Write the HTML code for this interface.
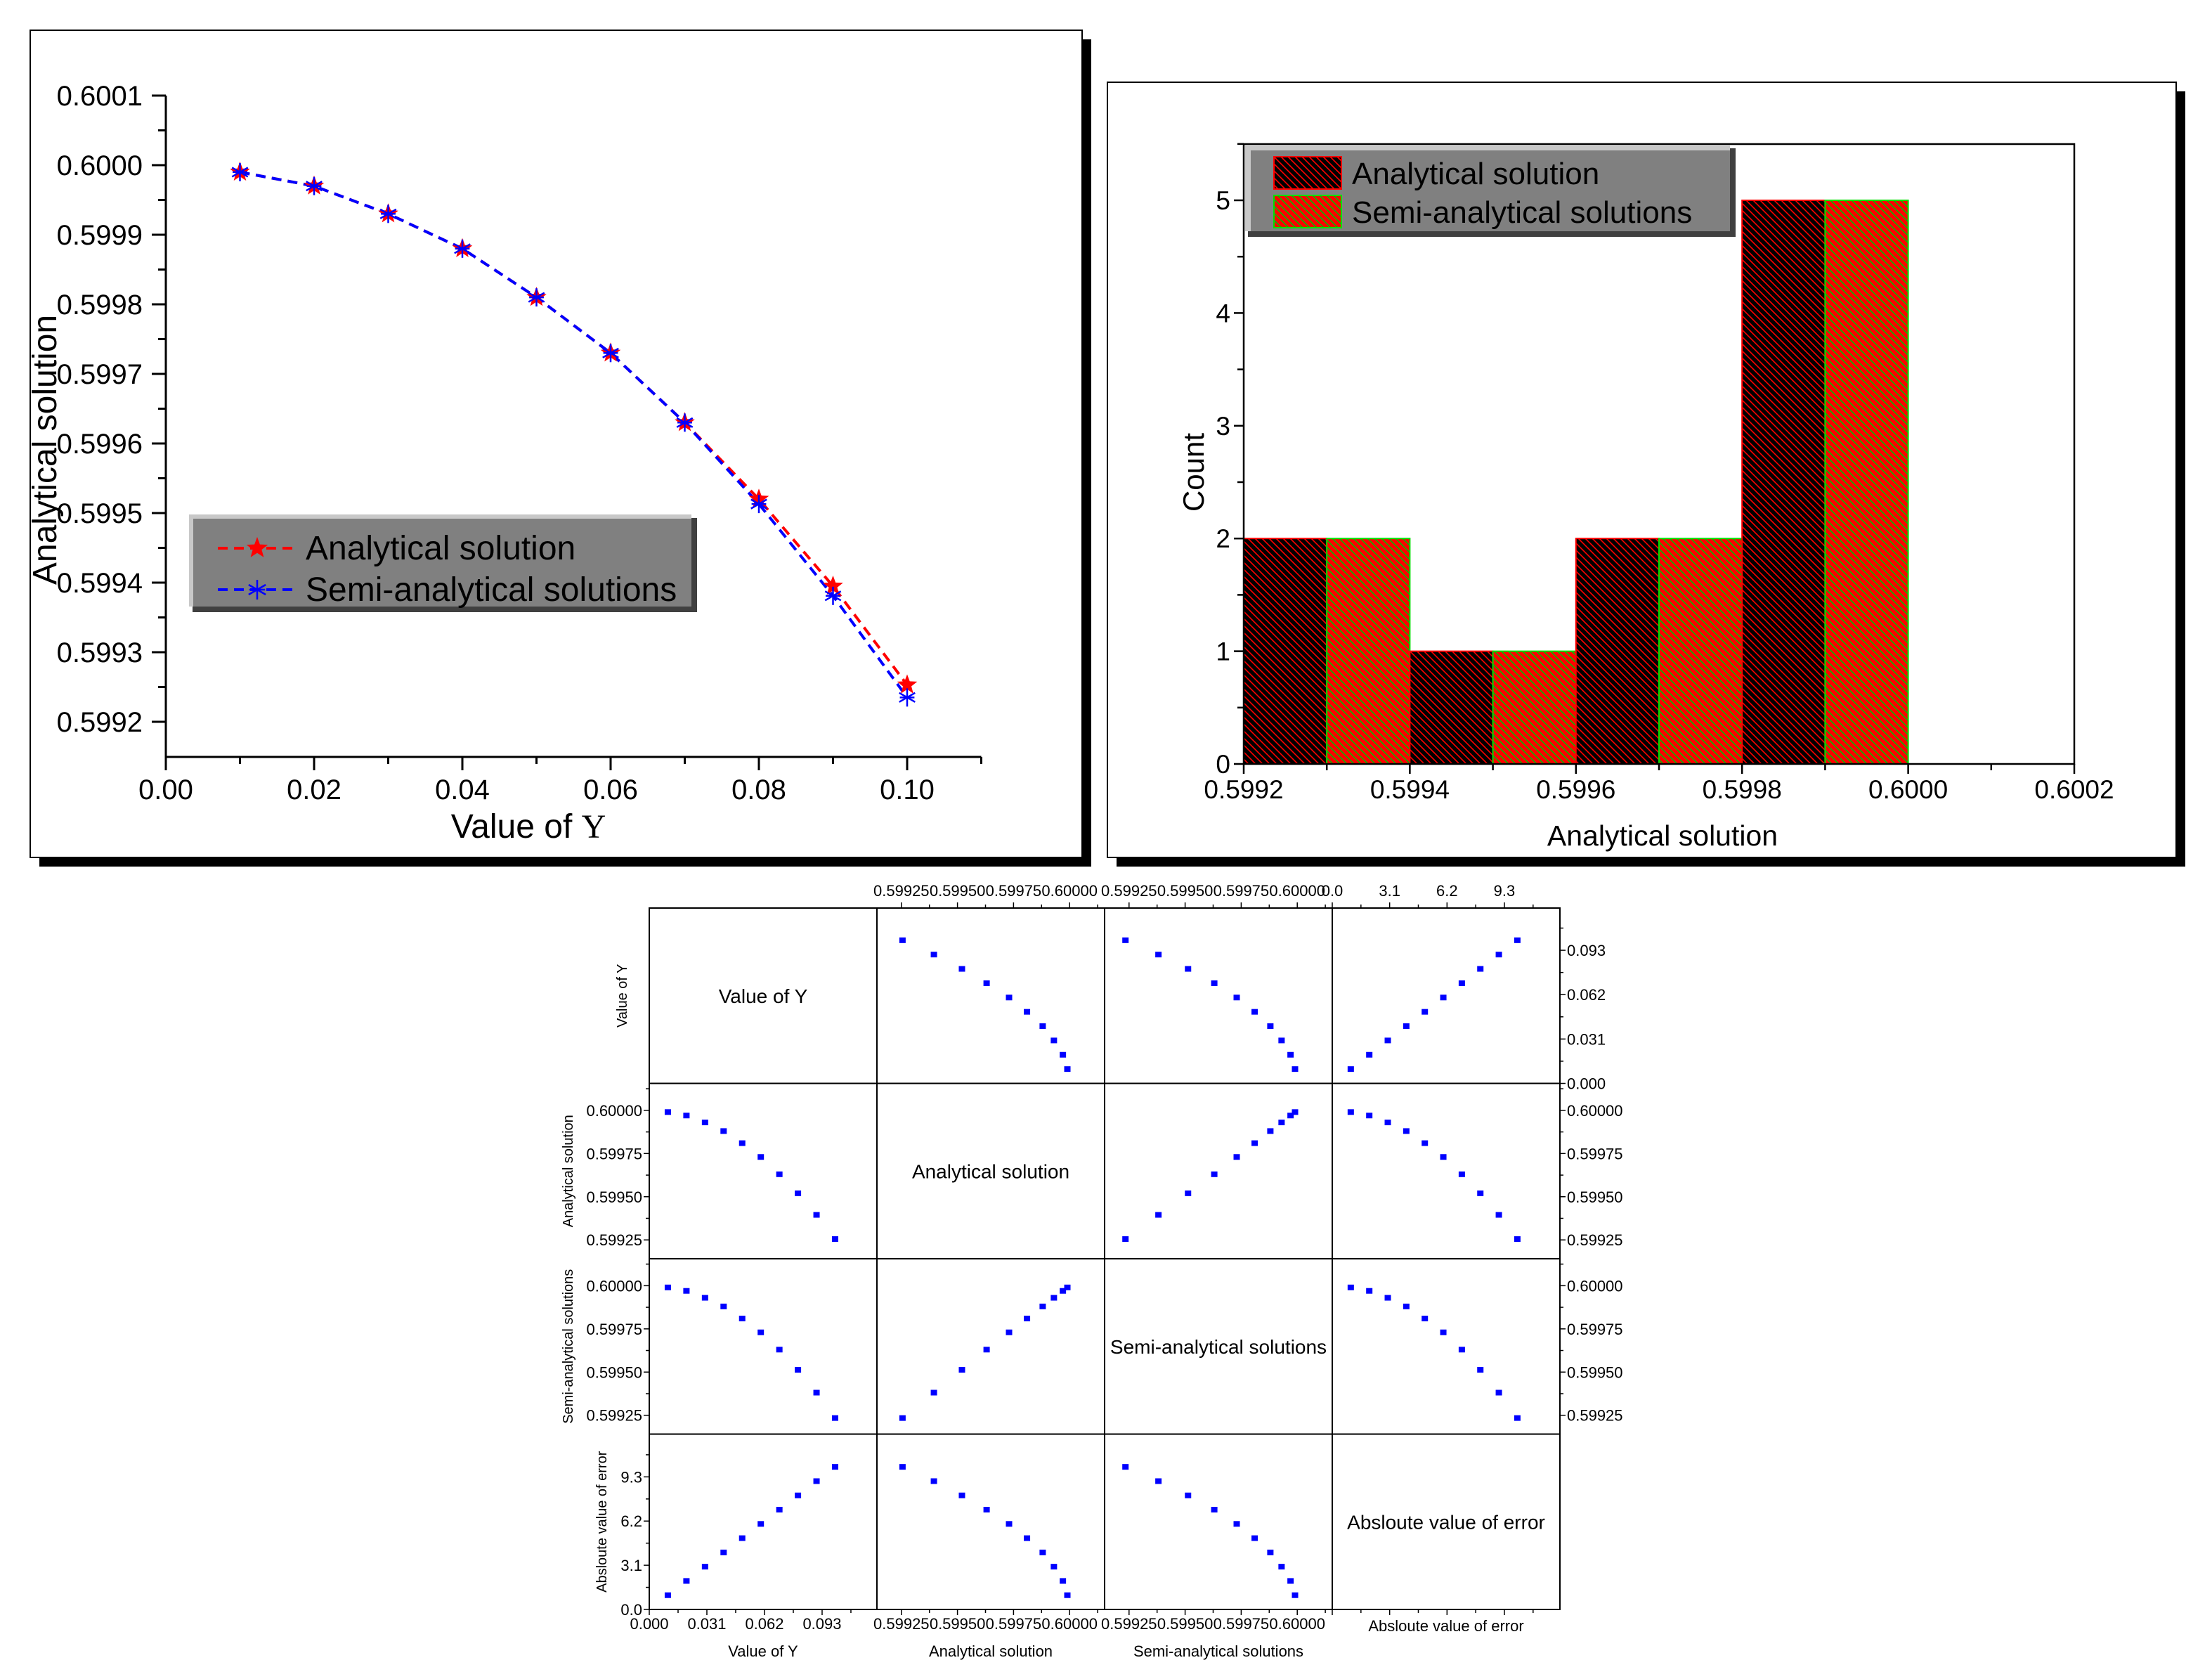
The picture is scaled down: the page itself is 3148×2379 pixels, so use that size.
<!DOCTYPE html>
<html><head><meta charset="utf-8"><style>
html,body{margin:0;padding:0;background:#fff;}
svg{display:block;font-family:"Liberation Sans",sans-serif;}
</style></head><body>
<svg id="root" width="3148" height="2379" viewBox="0 0 3148 2379" xmlns="http://www.w3.org/2000/svg">
<defs>
<pattern id="hatchRed" width="10" height="10" patternUnits="userSpaceOnUse">
<rect width="10" height="10" fill="#000"/><path d="M-2,-2 L12,12 M-2,8 L2,12 M8,-2 L12,2" stroke="#ff0000" stroke-width="1.6"/>
</pattern>
<pattern id="hatchGreen" width="10" height="10" patternUnits="userSpaceOnUse">
<rect width="10" height="10" fill="#ff0000"/><path d="M-2,-2 L12,12 M-2,8 L2,12 M8,-2 L12,2" stroke="#00c000" stroke-width="1.6"/>
</pattern>
</defs>
<rect x="56" y="56" width="1497" height="1177" fill="#000"/>
<rect x="43" y="43" width="1497" height="1177" fill="#fff" stroke="#000" stroke-width="2"/>
<rect x="1589" y="130" width="1521" height="1103" fill="#000"/>
<rect x="1576" y="117" width="1521" height="1103" fill="#fff" stroke="#000" stroke-width="2"/>
<g id="left"></g>
<g id="right"></g>
<g id="matrix"></g>
</svg>
<script>
const NS='http://www.w3.org/2000/svg';
// ---- Left chart data ----
const lineX=[0.01,0.02,0.03,0.04,0.05,0.06,0.07,0.08,0.09,0.10];
const analytical=[0.59999,0.59997,0.59993,0.59988,0.59981,0.59973,0.59963,0.59952,0.599395,0.599253];
const semiAnalytical=[0.59999,0.59997,0.59993,0.59988,0.59981,0.59973,0.59963,0.599513,0.599381,0.599235];
const leftXTicks=["0.00","0.02","0.04","0.06","0.08","0.10"];
const leftYTicks=["0.5992","0.5993","0.5994","0.5995","0.5996","0.5997","0.5998","0.5999","0.6000","0.6001"];
// ---- Histogram data ----
const binStarts=[0.5992,0.5994,0.5996,0.5998];
const histAnalytical=[2,1,2,5];
const histSemi=[2,1,2,5];
const histXTicks=["0.5992","0.5994","0.5996","0.5998","0.6000","0.6002"];
const histYTicks=["0","1","2","3","4","5"];
// ---- Matrix data ----
const matVars=["Value of Y","Analytical solution","Semi-analytical solutions","Absloute value of error"];
const matY=[0.01,0.02,0.03,0.04,0.05,0.06,0.07,0.08,0.09,0.10];
const matA=[0.59999,0.59997,0.59993,0.59988,0.59981,0.59973,0.59963,0.59952,0.599395,0.599255];
const matS=[0.59999,0.59997,0.59993,0.59988,0.59981,0.59973,0.59963,0.599513,0.599381,0.599234];
const matE=[1,2,3,4,5,6,7,8,9,10];
const tickY=["0.000","0.031","0.062","0.093"];
const tickA=["0.59925","0.59950","0.59975","0.60000"];
const tickE=["0.0","3.1","6.2","9.3"];

function mk(parent,tag,attrs,text){const e=document.createElementNS(NS,tag);for(const k in attrs)e.setAttribute(k,attrs[k]);if(text!==undefined)e.textContent=text;parent.appendChild(e);return e;}

// ===== LEFT CHART =====
const L=document.getElementById('left');
const lx=v=>236+v*10550;
const ly=v=>1027-(v-0.5992)*990000;
let e;
e=mk(L,'line',{x1:236,y1:ly(0.6001),x2:236,y2:1077,stroke:'#000','stroke-width':3});

e=mk(L,'line',{x1:235,y1:1077,x2:lx(0.11),y2:1077,stroke:'#000','stroke-width':3});

for(let i=0;i<=11;i++){const x=lx(i*0.01);const major=i%2===0;
 mk(L,'line',{x1:x,y1:1077,x2:x,y2:1077+(major?19:10),stroke:'#000','stroke-width':3});}
leftXTicks.forEach(t=>{e=mk(L,'text',{x:lx(parseFloat(t)),y:1137,'font-size':40,'text-anchor':'middle'},t);
 });
for(let i=0;i<=18;i++){const v=0.5992+i*0.00005;const y=ly(v);const major=i%2===0;
 mk(L,'line',{x1:236,y1:y,x2:236-(major?20:11),y2:y,stroke:'#000','stroke-width':3});}
leftYTicks.forEach(t=>{e=mk(L,'text',{x:203,y:ly(parseFloat(t))+14,'font-size':40,'text-anchor':'end'},t);
 });
e=mk(L,'text',{x:0,y:0,'font-size':48,'text-anchor':'middle',transform:'translate(80,640) rotate(-90)'},'Analytical solution');

e=mk(L,'text',{x:752,y:1192,'font-size':48,'text-anchor':'middle'});

e.innerHTML='Value of <tspan font-family="Liberation Serif, serif">Y</tspan>';
function starPath(cx,cy,r){let d='';for(let i=0;i<10;i++){const a=-Math.PI/2+i*Math.PI/5;const rr=i%2?r*0.42:r;d+=(i?'L':'M')+(cx+rr*Math.cos(a)).toFixed(1)+','+(cy+rr*Math.sin(a)).toFixed(1);}return d+'Z';}
function asterisk(g,cx,cy,r,col){[90,30,150].forEach(a=>{const rad=a*Math.PI/180;mk(g,'line',{x1:cx-r*Math.cos(rad),y1:cy-r*Math.sin(rad),x2:cx+r*Math.cos(rad),y2:cy+r*Math.sin(rad),stroke:col,'stroke-width':2.5});});mk(g,'line',{x1:cx-r*0.8,y1:cy,x2:cx+r*0.8,y2:cy,stroke:col,'stroke-width':2.5});}
e=mk(L,'polyline',{points:lineX.map((x,i)=>lx(x)+','+ly(analytical[i])).join(' '),fill:'none',stroke:'#ff0000','stroke-width':4,'stroke-dasharray':'14 9'});

e=mk(L,'polyline',{points:lineX.map((x,i)=>lx(x)+','+ly(semiAnalytical[i])).join(' '),fill:'none',stroke:'#0000ff','stroke-width':4,'stroke-dasharray':'14 9'});

lineX.forEach((x,i)=>{e=mk(L,'path',{d:starPath(lx(x),ly(analytical[i]),15),fill:'#ff0000'});
 });
lineX.forEach((x,i)=>{const g=mk(L,'g',{});asterisk(g,lx(x),ly(semiAnalytical[i]),13,'#0000ff');});
const LG=mk(L,'g',{});
mk(LG,'rect',{x:274,y:737,width:718,height:134,fill:'#404040'});
mk(LG,'rect',{x:269,y:732,width:715,height:131,fill:'#c8c8c8'});
mk(LG,'rect',{x:275,y:738,width:709,height:125,fill:'#808080'});
mk(LG,'line',{x1:310,y1:780,x2:422,y2:780,stroke:'#ff0000','stroke-width':4,'stroke-dasharray':'14 9'});
mk(LG,'path',{d:starPath(366,780,16),fill:'#ff0000'});
mk(LG,'text',{x:435,y:796,'font-size':48},'Analytical solution');
mk(LG,'line',{x1:310,y1:839,x2:422,y2:839,stroke:'#0000ff','stroke-width':4,'stroke-dasharray':'14 9'});
asterisk(LG,366,839,14,'#0000ff');
mk(LG,'text',{x:435,y:855,'font-size':48},'Semi-analytical solutions');

// ===== RIGHT CHART =====
const R=document.getElementById('right');
const rx=v=>1770+(v-0.5992)*1182000;
const ry=c=>1087-c*160.4;
binStarts.forEach((b,i)=>{
 e=mk(R,'rect',{x:rx(b),y:ry(histAnalytical[i]),width:rx(b+0.0001)-rx(b),height:ry(0)-ry(histAnalytical[i]),fill:'url(#hatchRed)',stroke:'#ff0000','stroke-width':2});
 
 e=mk(R,'rect',{x:rx(b+0.0001),y:ry(histSemi[i]),width:rx(b+0.0002)-rx(b+0.0001),height:ry(0)-ry(histSemi[i]),fill:'url(#hatchGreen)',stroke:'#00e000','stroke-width':2});
 
});
e=mk(R,'rect',{x:1770,y:205,width:1182,height:882,fill:'none',stroke:'#000','stroke-width':2.5});

for(let i=0;i<=10;i++){const x=rx(0.5992+i*0.0001);mk(R,'line',{x1:x,y1:1087,x2:x,y2:1087+(i%2?9:14),stroke:'#000','stroke-width':2.5});}
histXTicks.forEach(t=>{e=mk(R,'text',{x:rx(parseFloat(t)),y:1136,'font-size':37,'text-anchor':'middle'},t);
 });
for(let i=0;i<=11;i++){const y=ry(i*0.5);mk(R,'line',{x1:1770,y1:y,x2:1770-(i%2?9:14),y2:y,stroke:'#000','stroke-width':2.5});}
histYTicks.forEach(t=>{e=mk(R,'text',{x:1751,y:ry(parseFloat(t))+13,'font-size':37,'text-anchor':'end'},t);
 });
e=mk(R,'text',{x:0,y:0,'font-size':42,'text-anchor':'middle',transform:'translate(1713,672) rotate(-90)'},'Count');

e=mk(R,'text',{x:2366,y:1203,'font-size':41,'text-anchor':'middle'},'Analytical solution');

const RG=mk(R,'g',{});
mk(RG,'rect',{x:1776,y:211,width:694,height:126,fill:'#404040'});
mk(RG,'rect',{x:1772,y:207,width:690,height:122,fill:'#c8c8c8'});
mk(RG,'rect',{x:1780,y:214,width:682,height:115,fill:'#808080'});
mk(RG,'rect',{x:1813,y:223,width:96,height:46,fill:'url(#hatchRed)',stroke:'#ff0000','stroke-width':2});
mk(RG,'text',{x:1924,y:262,'font-size':44},'Analytical solution');
mk(RG,'rect',{x:1813,y:278,width:96,height:46,fill:'url(#hatchGreen)',stroke:'#00e000','stroke-width':2});
mk(RG,'text',{x:1924,y:317,'font-size':44},'Semi-analytical solutions');

// ===== MATRIX =====
const M=document.getElementById('matrix');
const MX=924,MY=1292,CW=324,CH=249.5;
const ranges=[[0,0.1225],[0.599141,0.600156],[0.599141,0.600156],[0,12.3]];
const dataCols=[matY,matA,matS,matE];
const tickSets=[tickY,tickA,tickA,tickE];
const fr=(k,v)=>(v-ranges[k][0])/(ranges[k][1]-ranges[k][0]);
for(let r=0;r<4;r++)for(let c=0;c<4;c++){
 const x0=MX+c*CW,y0=MY+r*CH;
 e=mk(M,'rect',{x:x0,y:y0,width:CW,height:CH,fill:'none',stroke:'#000','stroke-width':2});
 
 if(r===c){e=mk(M,'text',{x:x0+CW/2,y:y0+CH/2+10,'font-size':28,'text-anchor':'middle'},matVars[r]);
  continue;}
 dataCols[c].forEach((xv,i)=>{const yv=dataCols[r][i];
  e=mk(M,'rect',{x:x0+fr(c,xv)*CW-4.5,y:y0+CH-fr(r,yv)*CH-4,width:9,height:8,fill:'#0000ff'});
  });
}
function minorOf(ts,k){const a=parseFloat(ts[0]),b=parseFloat(ts[1]);const st=b-a;const out=[];for(let v=a-st/2;v<=ranges[k][1];v+=st/2){if(v>=ranges[k][0]-1e-12)out.push(v);}return out;}
for(let k=0;k<4;k++){
 const ts=tickSets[k];const all=minorOf(ts,k);
 const x0=MX+k*CW;
 all.forEach(v=>{const x=x0+fr(k,v)*CW;const maj=ts.some(t=>Math.abs(parseFloat(t)-v)<1e-9);
  mk(M,'line',{x1:x,y1:MY+4*CH,x2:x,y2:MY+4*CH+(maj?8:5),stroke:'#000','stroke-width':1.5});
  if(k>0)mk(M,'line',{x1:x,y1:MY,x2:x,y2:MY-(maj?8:5),stroke:'#000','stroke-width':1.5});});
 ts.forEach(t=>{const x=x0+fr(k,parseFloat(t))*CW;
  if(k<3){e=mk(M,'text',{x:x,y:2318,'font-size':22,'text-anchor':'middle'},t);}
  if(k>0){e=mk(M,'text',{x:x,y:1275,'font-size':22,'text-anchor':'middle'},t);}});
 const y0=MY+k*CH;
 all.forEach(v=>{const y=y0+CH-fr(k,v)*CH;const maj=ts.some(t=>Math.abs(parseFloat(t)-v)<1e-9);
  if(k>0)mk(M,'line',{x1:MX,y1:y,x2:MX-(maj?8:5),y2:y,stroke:'#000','stroke-width':1.5});
  if(k<3)mk(M,'line',{x1:MX+4*CW,y1:y,x2:MX+4*CW+(maj?8:5),y2:y,stroke:'#000','stroke-width':1.5});});
 ts.forEach(t=>{const y=y0+CH-fr(k,parseFloat(t))*CH+8;
  if(k>0){e=mk(M,'text',{x:MX-10,y:y,'font-size':22,'text-anchor':'end'},t);}
  if(k<3){e=mk(M,'text',{x:MX+4*CW+10,y:y,'font-size':22},t);}});
}
const leftTitleX=[885,808,808,856];
for(let r=0;r<4;r++){const cy=MY+r*CH+CH/2;
 e=mk(M,'text',{x:0,y:0,'font-size':20,'text-anchor':'middle',transform:'translate('+(leftTitleX[r]+7)+','+cy+') rotate(-90)'},matVars[r]);
 }
for(let c=0;c<4;c++){const cx=MX+c*CW+CW/2;
 e=mk(M,'text',{x:cx,y:c<3?2357:2321,'font-size':22,'text-anchor':'middle'},matVars[c]);
 }
</script>
</body></html>
